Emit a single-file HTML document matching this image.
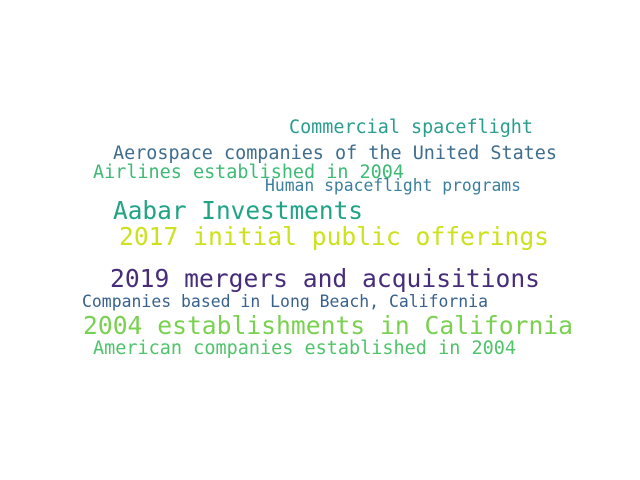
<!DOCTYPE html>
<html><head><meta charset="utf-8"><style>
html,body{margin:0;padding:0;background:#fff;width:640px;height:480px;overflow:hidden}
text{font-family:"DejaVu Sans Mono","Liberation Mono",monospace}
</style></head><body>
<svg width="640" height="480" viewBox="0 0 640 480" xmlns="http://www.w3.org/2000/svg">
<rect width="640" height="480" fill="#fff"/>
<g id="words"></g>
</svg>
<script>
const words = ["Commercial spaceflight","Aerospace companies of the United States","Airlines established in 2004","Human spaceflight programs","Aabar Investments","2017 initial public offerings","2019 mergers and acquisitions","Companies based in Long Beach, California","2004 establishments in California","American companies established in 2004"];
const weights = [0.75,0.75,0.75,0.67,1.0,1.0,1.0,0.67,1.0,0.75];
const colors = ["#2a9d8e","#3e6d8e","#3dbb74","#3a7f9e","#21a386","#cde11d","#472c7a","#38628d","#7ad151","#50c46a"];
const layout = [[289,133,244],[113,159,444],[93,178,311],[265,191,256],[113,219,250],[119,245,430],[110,287,430],[82,307,406],[83,334,490],[93,354,423]];
const g = document.getElementById('words');
words.forEach((w,i)=>{
  const t = document.createElementNS('http://www.w3.org/2000/svg','text');
  
  
  t.setAttribute('x',layout[i][0]);
  t.setAttribute('y',layout[i][1]);
  t.setAttribute('font-size',(24.6*weights[i]).toFixed(1));
  t.setAttribute('fill',colors[i]);
  t.setAttribute('textLength',layout[i][2]);
  t.setAttribute('lengthAdjust','spacingAndGlyphs');
  t.textContent = w;
  g.appendChild(t);
});
</script>
</body></html>
